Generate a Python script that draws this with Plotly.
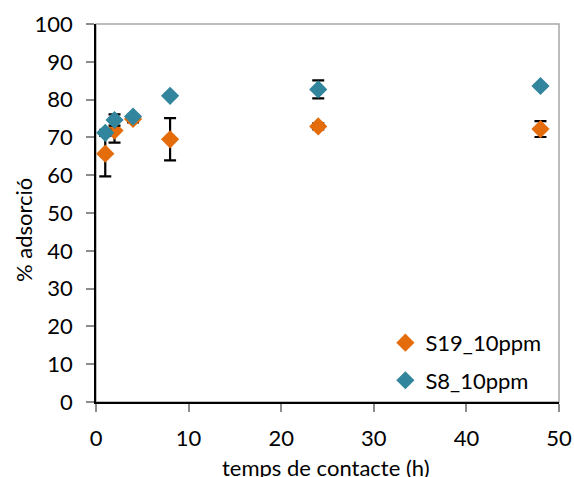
import plotly.graph_objects as go

# Data
time_h = [1, 2, 4, 8, 24, 48]
s19_vals = [65.7, 71.8, 74.9, 69.5, 72.9, 72.2]
s19_err = [6.0, 3.2, 0.9, 5.6, 0.8, 2.1]
s8_vals = [71.2, 74.6, 75.5, 81.0, 82.7, 83.6]
s8_err = [0.8, 1.5, 0.5, 0.5, 2.4, 0.4]
x_ticks = [0, 10, 20, 30, 40, 50]
y_ticks = [0, 10, 20, 30, 40, 50, 60, 70, 80, 90, 100]
x_title = "temps de contacte (h)"
y_title = "% adsorció"

ORANGE = "#E46C0A"
TEAL = "#31859C"
FONT = "Lato"

fig = go.Figure()
fig.add_trace(go.Scatter(
    x=time_h, y=s19_vals, mode="markers", name="S19_10ppm", legendgroup="a",
    marker=dict(symbol="diamond", size=14, color=ORANGE),
    error_y=dict(type="data", array=s19_err, visible=True, color="black",
                 thickness=2.2, width=6),
))
fig.add_trace(go.Scatter(
    x=time_h, y=s8_vals, mode="markers", name="S8_10ppm", legendgroup="b",
    marker=dict(symbol="diamond", size=14, color=TEAL),
    error_y=dict(type="data", array=s8_err, visible=True, color="black",
                 thickness=2.2, width=6),
))

# grey plot-area border (top and right)
fig.add_shape(type="rect", xref="paper", yref="paper", x0=0, x1=1, y0=0, y1=1,
              line=dict(color="#A6A6A6", width=1.5), layer="below")

# axis titles as annotations for exact placement
fig.add_annotation(text=y_title, xref="paper", yref="paper", x=0, y=0.455,
                   xanchor="center", yanchor="middle", xshift=-73, textangle=-90,
                   showarrow=False, font=dict(size=22, family=FONT, color="black"))
fig.add_annotation(text=x_title, xref="paper", yref="paper", x=0.497, y=0,
                   xanchor="center", yanchor="middle", yshift=-65,
                   showarrow=False, font=dict(size=22, family=FONT, color="black"))

fig.update_layout(
    width=574, height=477,
    margin=dict(l=96, r=15, t=24, b=75),
    paper_bgcolor="white", plot_bgcolor="white",
    font=dict(family=FONT, size=22, color="black"),
    showlegend=True,
    legend=dict(x=0.625, y=0.212, xanchor="left", yanchor="top",
                bgcolor="rgba(0,0,0,0)", font=dict(size=22),
                tracegroupgap=6, itemwidth=30),
    xaxis=dict(
        range=[0, 50], tickvals=x_ticks, ticktext=[str(v) for v in x_ticks],
        ticks="outside", ticklen=8, tickcolor="#8C8C8C", tickwidth=1.5,
        showline=True, linecolor="black", linewidth=1.5, automargin=False,
        showgrid=False, zeroline=False, ticklabelstandoff=8,
    ),
    yaxis=dict(
        range=[0, 100], tickvals=y_ticks, ticktext=[str(v) for v in y_ticks],
        ticks="outside", ticklen=8, tickcolor="#8C8C8C", tickwidth=1.5,
        showline=True, linecolor="black", linewidth=1.5, automargin=False,
        showgrid=False, zeroline=False, ticklabelstandoff=9,
    ),
)

fig.write_html("out.html",
               config={"displayModeBar": False},
               post_script="document.documentElement.style.overflow='hidden';"
                           "document.body.style.margin='0';"
                           "document.body.style.overflow='hidden';")
